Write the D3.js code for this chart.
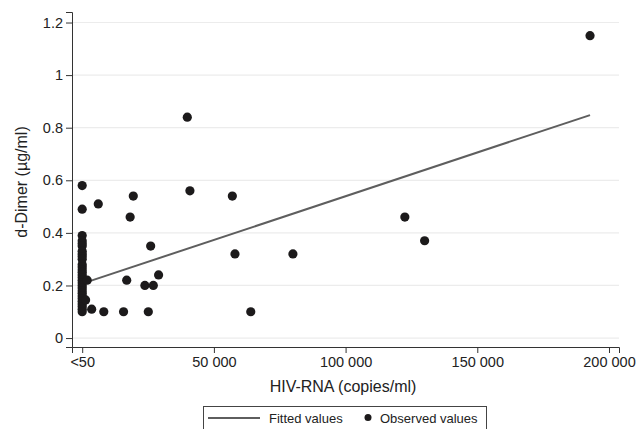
<!DOCTYPE html>
<html>
<head>
<meta charset="utf-8">
<script src="https://cdn.jsdelivr.net/npm/d3@7"></script>
<style>
  body { margin: 0; background: #fff; }
  svg { font-family: "Liberation Sans", Arial, sans-serif; }
</style>
</head>
<body>
<div id="chart"></div>
<script>
// observed values: HIV-RNA (copies/ml, "<50" plotted at 0) and d-Dimer (ug/ml)
const obsX = [
  0, 0, 0, 0, 0, 0, 0, 0, 0, 0, 0, 0, 0, 0, 0, 0, 0, 0, 0, 0, 0, 0, 0, 0, 0, 0, 0,
  0, 0, 1900, 1300, 3600, 8200,
  6100, 19400, 18200, 40900, 26000, 16900, 23800, 27000, 29000,
  15700, 25100, 39900, 57000, 58000, 80000, 64000, 122500, 130000, 192800
];
const obsY = [
  0.39, 0.37, 0.36, 0.35, 0.33, 0.32, 0.31, 0.30, 0.28, 0.27, 0.26, 0.25, 0.24, 0.23,
  0.22, 0.21, 0.20, 0.19, 0.18, 0.17, 0.16, 0.15, 0.14, 0.13, 0.12, 0.11, 0.10,
  0.58, 0.49, 0.22, 0.145, 0.11, 0.10,
  0.51, 0.54, 0.46, 0.56, 0.35, 0.22, 0.20, 0.20, 0.24,
  0.10, 0.10, 0.84, 0.54, 0.32, 0.32, 0.10, 0.46, 0.37, 1.15
];
// fitted regression line endpoints
const fitX = [0, 192800];
const fitY = [0.207, 0.848];

const xTicks = [0, 50000, 100000, 150000, 200000];
const xTickLabels = ["<50", "50 000", "100 000", "150 000", "200 000"];
const yTicks = [0, 0.2, 0.4, 0.6, 0.8, 1, 1.2];

const W = 641, H = 429;
const svg = d3.select("#chart").append("svg")
  .attr("width", W)
  .attr("height", H);

const x = d3.scaleLinear().domain([-3870, 203800]).range([72, 619]);
const y = d3.scaleLinear().domain([-0.034, 1.24]).range([347, 12]);

// gridlines
svg.append("g")
  .selectAll("line")
  .data(yTicks)
  .join("line")
  .attr("x1", 72).attr("x2", 619)
  .attr("y1", d => y(d)).attr("y2", d => y(d))
  .attr("stroke", "#ececec")
  .attr("stroke-width", 1.2);

// axes
const yAxis = svg.append("g")
  .attr("transform", "translate(72,0)")
  .call(d3.axisLeft(y).tickValues(yTicks).tickFormat(d3.format("~g")).tickSizeOuter(0).tickSize(6).tickPadding(3));

const xAxis = svg.append("g")
  .attr("transform", "translate(0,347)")
  .call(d3.axisBottom(x).tickValues(xTicks).tickFormat((d, i) => xTickLabels[i]).tickSizeOuter(0).tickSize(6).tickPadding(4));

[yAxis, xAxis].forEach(a => {
  a.selectAll("text").style("font-size", "14.5px").attr("fill", "#222");
  a.selectAll("line").attr("stroke", "#333");
  a.select(".domain").attr("stroke", "#333");
});

// fitted line
svg.append("line")
  .attr("x1", x(fitX[0])).attr("y1", y(fitY[0]))
  .attr("x2", x(fitX[1])).attr("y2", y(fitY[1]))
  .attr("stroke", "#5e5e5e")
  .attr("stroke-width", 2);

// observed points
svg.append("g")
  .selectAll("circle")
  .data(obsX.map((d, i) => ({ x: d, y: obsY[i] })))
  .join("circle")
  .attr("cx", d => x(d.x))
  .attr("cy", d => y(d.y))
  .attr("r", 4.6)
  .attr("fill", "#1c1a1b");

// axis titles
svg.append("text")
  .attr("x", 343)
  .attr("y", 392)
  .attr("text-anchor", "middle")
  .style("font-size", "16px")
  .attr("fill", "#222")
  .text("HIV-RNA (copies/ml)");

svg.append("text")
  .attr("transform", "rotate(-90)")
  .attr("x", -182)
  .attr("y", 27)
  .attr("text-anchor", "middle")
  .style("font-size", "16px")
  .attr("fill", "#222")
  .text("d-Dimer (µg/ml)");

// legend
const legend = svg.append("g");
legend.append("rect")
  .attr("x", 203.5).attr("y", 406.5)
  .attr("width", 283).attr("height", 40)
  .attr("fill", "none")
  .attr("stroke", "#444");
legend.append("line")
  .attr("x1", 208).attr("x2", 260)
  .attr("y1", 418).attr("y2", 418)
  .attr("stroke", "#5e5e5e")
  .attr("stroke-width", 2);
legend.append("text")
  .attr("x", 269).attr("y", 422.5)
  .style("font-size", "13px")
  .attr("fill", "#222")
  .text("Fitted values");
legend.append("circle")
  .attr("cx", 368).attr("cy", 417.5)
  .attr("r", 3.5)
  .attr("fill", "#1c1a1b");
legend.append("text")
  .attr("x", 380).attr("y", 422.5)
  .style("font-size", "13px")
  .attr("fill", "#222")
  .text("Observed values");
</script>
</body>
</html>
